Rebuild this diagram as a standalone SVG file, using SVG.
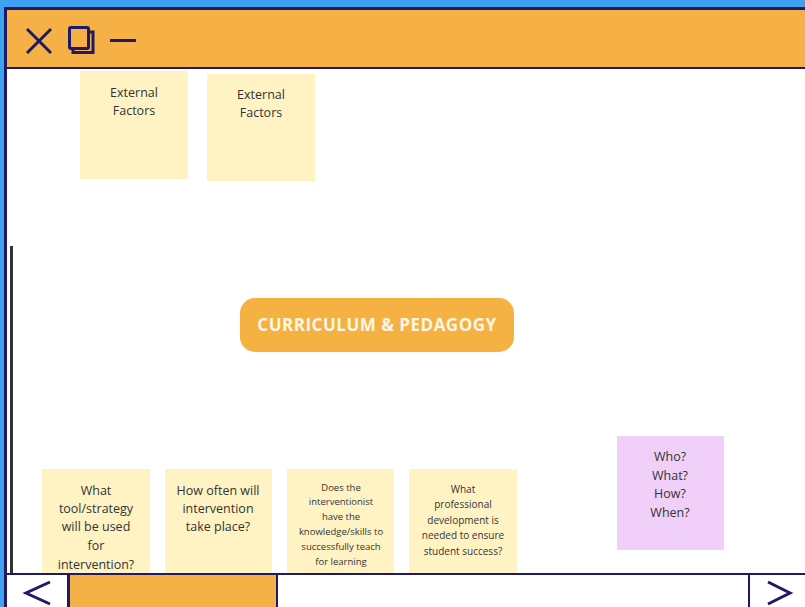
<svg xmlns="http://www.w3.org/2000/svg" width="805" height="607" viewBox="0 0 805 607">
<style>
.note{fill:#FFF3C4}
.t{font-family:"Open Sans","Noto Sans",sans-serif;fill:#333333;text-anchor:middle}
.ic{stroke:#1E1A66;stroke-width:3;fill:none}
.nav{fill:#1E1A66}
</style>
<rect width="805" height="607" fill="#3FA2F0"/>
<g id="window">
<rect x="4" y="7" width="820" height="620" class="nav"/>
<rect x="7" y="10" width="810" height="57" fill="#F5B146"/>
<rect x="7" y="69" width="810" height="504" fill="#FFFFFF"/>
<rect x="7" y="575" width="810" height="40" fill="#FFFFFF"/>
<rect x="70" y="575" width="206" height="40" fill="#F5B146"/>
<rect x="67" y="575" width="3" height="32" class="nav"/>
<rect x="276" y="575" width="2" height="32" class="nav"/>
<rect x="748" y="575" width="2" height="32" class="nav"/>
</g>
<g id="titlebar-icons">
<path class="ic" d="M27 29 L51 53 M51 29 L27 53"/>
<rect class="ic" x="69.5" y="27.5" width="19" height="21" rx="1.5"/>
<path class="ic" d="M89 32 L93 32 L93 52.5 L73 52.5 L73 49"/>
<path class="ic" d="M110 40.5 L136 40.5"/>
</g>
<g id="scroll-arrows">
<path class="ic" d="M50 582 L26 593 L50 604"/>
<path class="ic" d="M768 582 L790 593 L768 604"/>
</g>
<rect x="10" y="246" width="3" height="327" fill="#333333"/>
<g id="note1">
<rect class="note" x="80" y="71" width="108" height="108"/>
<text class="t" font-size="12.5" x="134" y="97">External</text>
<text class="t" font-size="12.5" x="134" y="115">Factors</text>
</g>
<g id="note2">
<rect class="note" x="207" y="74" width="108" height="107"/>
<text class="t" font-size="12.5" x="261" y="99">External</text>
<text class="t" font-size="12.5" x="261" y="117">Factors</text>
</g>
<g id="center">
<rect x="240" y="298" width="274" height="54" rx="15" fill="#F5B142"/>
<text font-family="'Open Sans','Noto Sans',sans-serif" font-size="17" letter-spacing="0.5" font-weight="bold" fill="#FFF6E6" text-anchor="middle" x="377" y="331">CURRICULUM &amp; PEDAGOGY</text>
</g>
<g id="note3">
<rect class="note" x="42" y="469" width="108" height="104"/>
<text class="t" font-size="12.5" x="96" y="495">What</text>
<text class="t" font-size="12.5" x="96" y="513">tool/strategy</text>
<text class="t" font-size="12.5" x="96" y="531">will be used</text>
<text class="t" font-size="12.5" x="96" y="550">for</text>
<text class="t" font-size="12.5" x="96" y="569">intervention?</text>
</g>
<g id="note4">
<rect class="note" x="165" y="469" width="107" height="104"/>
<text class="t" font-size="12.5" x="218" y="495">How often will</text>
<text class="t" font-size="12.5" x="218" y="513">intervention</text>
<text class="t" font-size="12.5" x="218" y="531">take place?</text>
</g>
<g id="note5">
<rect class="note" x="287" y="469" width="107" height="104"/>
<text class="t" font-size="9.5" x="341" y="491">Does the</text>
<text class="t" font-size="9.5" x="341" y="505">interventionist</text>
<text class="t" font-size="9.5" x="341" y="520">have the</text>
<text class="t" font-size="9.5" x="341" y="535">knowledge/skills to</text>
<text class="t" font-size="9.5" x="341" y="550">successfully teach</text>
<text class="t" font-size="9.5" x="341" y="565">for learning</text>
</g>
<g id="note6">
<rect class="note" x="409" y="469" width="108" height="104"/>
<text class="t" font-size="10" x="463" y="493">What</text>
<text class="t" font-size="10" x="463" y="508">professional</text>
<text class="t" font-size="10" x="463" y="524">development is</text>
<text class="t" font-size="10" x="463" y="539">needed to ensure</text>
<text class="t" font-size="10" x="463" y="555">student success?</text>
</g>
<g id="note7">
<rect x="617" y="436" width="107" height="114" fill="#F0D0F8"/>
<text class="t" font-size="12.5" x="670" y="461">Who?</text>
<text class="t" font-size="12.5" x="670" y="480">What?</text>
<text class="t" font-size="12.5" x="670" y="498">How?</text>
<text class="t" font-size="12.5" x="670" y="517">When?</text>
</g>
<g id="connectors"></g>
</svg>
